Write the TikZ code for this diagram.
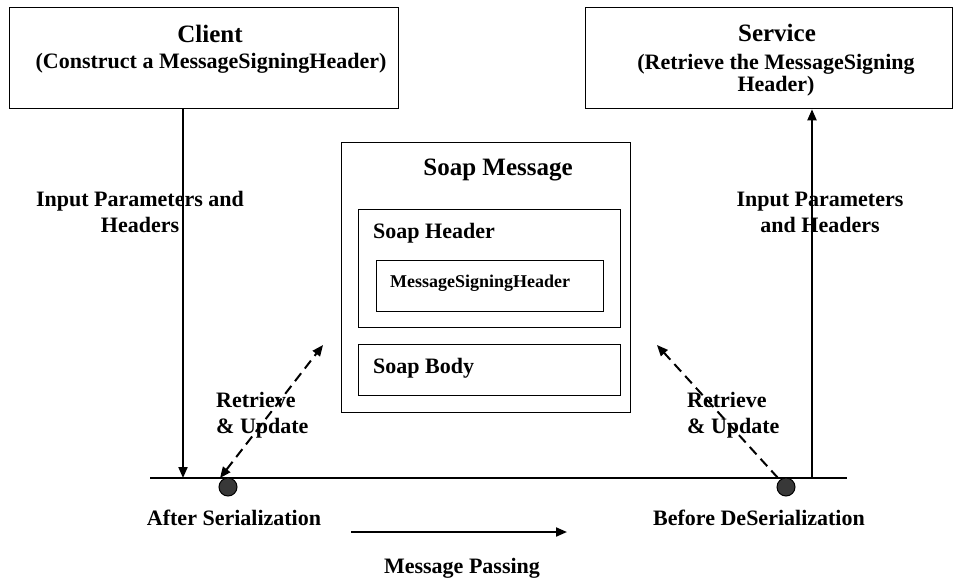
\documentclass[tikz,border=0pt]{standalone}
\usepackage{fontspec}
\setmainfont{Liberation Serif}
\usetikzlibrary{arrows.meta,positioning}

\begin{document}
\begin{tikzpicture}[x=1pt, y=-1pt,
  box/.style={rectangle, draw, line width=1.3pt, anchor=north west, inner sep=0pt},
  lbl/.style={font=\fontsize{22}{26}\selectfont\bfseries, align=center, inner sep=0pt},
  big/.style={font=\fontsize{25}{28}\selectfont\bfseries, inner sep=0pt},
  arr/.style={-{Triangle[length=11pt,width=9pt]}, line width=2pt},
  darr/.style={line width=2pt, dash pattern=on 10pt off 6pt},
  dot/.style={circle, draw, line width=1pt, fill=black!78, minimum size=18pt, inner sep=0pt}
]
\useasboundingbox (0,0) rectangle (956,579);

% ── end points ─────────────
\node[box, minimum width=389pt, minimum height=101pt] (client) at (9,7) {};
\node[big, anchor=base] (clientT) at (210,42) {Client};
\node[lbl, anchor=base] (clientS) at (211,68) {(Construct a MessageSigningHeader)};

\node[box, minimum width=367pt, minimum height=101pt] (service) at (585,7) {};
\node[big, anchor=base] (serviceT) at (777,41) {Service};
\node[lbl, anchor=base] (serviceS) at (776,69) {(Retrieve the MessageSigning};
\node[lbl, anchor=base] (serviceS2) at (776,91) {Header)};

% ── soap message ─────────────
\node[box, minimum width=289pt, minimum height=270pt] (msg) at (341,142) {};
\node[big, anchor=base] (msgT) at (498,175) {Soap Message};
\node[box, minimum width=262pt, minimum height=118pt] (hdr) at (358,209) {};
\node[lbl, anchor=base west] (hdrT) at (373,238) {Soap Header};
\node[box, minimum width=227pt, minimum height=51pt] (sign) at (376,260) {};
\node[lbl, anchor=base west, font=\fontsize{18}{20}\selectfont\bfseries] (signT) at (390,287) {MessageSigningHeader};
\node[box, minimum width=262pt, minimum height=51pt] (body) at (358,344) {};
\node[lbl, anchor=base west] (bodyT) at (373,373) {Soap Body};

% ── transport line ─────────────
\coordinate (busL) at (150,478);
\coordinate (busR) at (847,478);
\coordinate (cin) at (183,478);
\coordinate (sout) at (812,478);
\draw[line width=2.2pt] (busL) -- (busR);
\node[dot] (ser) at (228,487) {};
\node[dot] (deser) at (786,487) {};
\node[lbl, anchor=base] (serT) at (234,525) {After Serialization};
\node[lbl, anchor=base] (deserT) at (759,525) {Before DeSerialization};

\draw[arr] (client.south -| cin) -- (cin);
\draw[arr] (sout) -- (service.south -| sout);
\node[lbl] (inL) at (140,212) {Input Parameters and\\Headers};
\node[lbl] (inR) at (820,212) {Input Parameters\\and Headers};

% ── retrieve / update ─────────────
\coordinate (rl0) at (220,478);
\coordinate (rl1) at (323,345);
\coordinate (rr0) at (778,478);
\coordinate (rr1) at (657,345);
\draw[darr, {Triangle[length=11pt,width=9pt]}-{Triangle[length=11pt,width=9pt]}] (rl0) -- (rl1);
\draw[darr, -{Triangle[length=11pt,width=9pt]}] (rr0) -- (rr1);
\node[lbl, align=left, anchor=west] (updL) at (216,415) {Retrieve\\\& Update};
\node[lbl, align=left, anchor=west] (updR) at (687,415) {Retrieve\\\& Update};

% ── message passing ─────────────
\coordinate (mp0) at (351,532);
\coordinate (mp1) at (567,532);
\draw[arr] (mp0) -- (mp1);
\node[lbl, anchor=base] (mpT) at (462,573) {Message Passing};
\end{tikzpicture}
\end{document}
